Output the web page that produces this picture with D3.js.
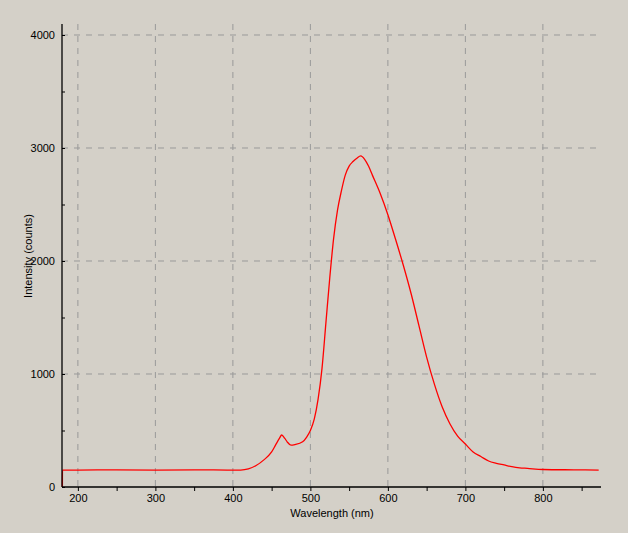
<!DOCTYPE html>
<html><head><meta charset="utf-8">
<script src="https://cdn.jsdelivr.net/npm/d3@7"></script>
<style>body{margin:0;background:#d4d0c8}svg{display:block}</style>
</head><body>
<script>
const wavelengths = [180,180.1,200,250,300,350,400,410,420,430,440,450,455,460,463,467,470,475,480,490,495,500,505,510,515,520,525,530,535,540,545,550,555,560,565,570,575,580,590,600,610,620,630,640,650,660,670,680,690,700,710,720,730,740,750,760,770,780,800,840,872];
const intensity = [0,150,150,152,150,152,150,150,160,190,240,310,370,430,460,430,400,370,375,400,440,500,600,780,1050,1450,1850,2200,2450,2620,2760,2840,2880,2910,2930,2900,2840,2760,2600,2410,2190,1960,1710,1430,1150,910,710,560,450,380,310,270,230,210,195,180,170,165,155,152,150];
const xGridTicks = [200,300,400,500,600,700,800];
const yGridTicks = [0,1000,2000,3000,4000];

const W=628,H=533;
const svg=d3.select("body").append("svg").attr("width",W).attr("height",H).style("font-family","Liberation Sans, Arial, sans-serif").style("font-size","11px");
const x=d3.scaleLinear().domain([179.5,875]).range([62,601]);
const y=d3.scaleLinear().domain([0,4000]).range([487,35]);
const plotTop=24;
svg.append("g").selectAll("line").data(xGridTicks).join("line")
 .attr("x1",d=>x(d)).attr("x2",d=>x(d)).attr("y1",plotTop).attr("y2",487)
 .attr("stroke","#999").attr("stroke-dasharray","6,6");
svg.append("g").selectAll("line").data(yGridTicks.slice(1)).join("line")
 .attr("x1",62).attr("x2",601).attr("y1",d=>y(d)).attr("y2",d=>y(d))
 .attr("stroke","#999").attr("stroke-dasharray","6,6");
svg.append("path").datum(wavelengths.map((w,i)=>[w,intensity[i]]))
 .attr("fill","none").attr("stroke","#ff0000").attr("stroke-width",1.3)
 .attr("d",d3.line().x(d=>x(d[0])).y(d=>y(d[1])).curve(d3.curveMonotoneX));
const xa=svg.append("g").attr("transform","translate(0,487)")
 .call(d3.axisBottom(x).tickValues(d3.range(200,851,50)).tickSize(4).tickFormat(d=>d%100===0?d:""));
xa.select(".domain").attr("d","M62,0H601");
const ya=svg.append("g").attr("transform","translate(62,0)")
 .call(d3.axisLeft(y).tickValues(d3.range(0,4001,500)).tickSize(4).tickFormat(d=>d%1000===0?d:""));
ya.select(".domain").attr("d",`M0,487V${plotTop}`);
ya.selectAll(".tick line").attr("x2",3);
svg.selectAll(".domain").attr("stroke","#000").attr("stroke-width",1.3);
svg.selectAll(".tick text").attr("fill","#000").style("font-size","11px");
svg.append("text").attr("x",332).attr("y",517).attr("text-anchor","middle").text("Wavelength (nm)");
svg.append("text").attr("transform","translate(32,256) rotate(-90)").attr("text-anchor","middle").text("Intensity (counts)");
</script>
</body></html>
